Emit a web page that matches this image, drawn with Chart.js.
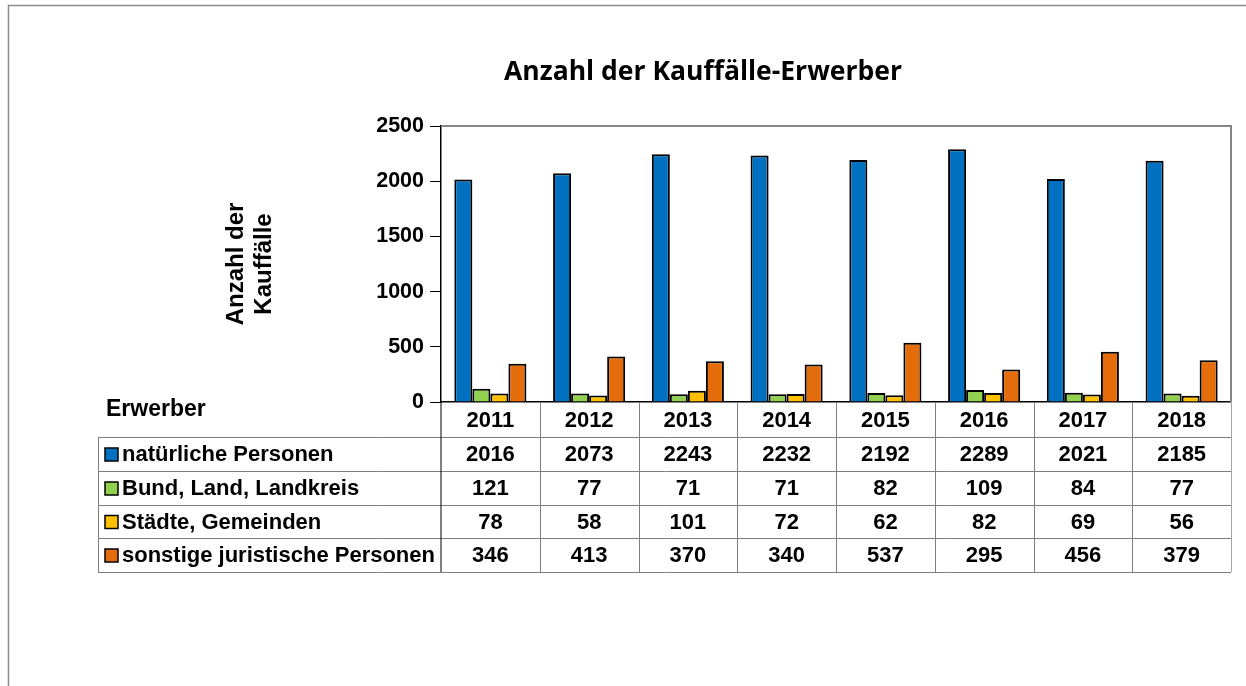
<!DOCTYPE html>
<html>
<head>
<meta charset="utf-8">
<script src="https://cdn.jsdelivr.net/npm/chart.js@4"></script>
<style>
  html, body { margin: 0; padding: 0; background: #fff; }
  canvas { display: block; }
</style>
</head>
<body>
<canvas id="grafico" width="1246" height="686"></canvas>
<script>
// Daten aus der Tabelle
const jahre = ["2011", "2012", "2013", "2014", "2015", "2016", "2017", "2018"];
const natuerlichePersonen = [2016, 2073, 2243, 2232, 2192, 2289, 2021, 2185];
const bundLandLandkreis = [121, 77, 71, 71, 82, 109, 84, 77];
const staedteGemeinden = [78, 58, 101, 72, 62, 82, 69, 56];
const sonstigeJuristische = [346, 413, 370, 340, 537, 295, 456, 379];

const serienNamen = ["natürliche Personen", "Bund, Land, Landkreis", "Städte, Gemeinden", "sonstige juristische Personen"];
const farben = ["#0070C0", "#92D050", "#FFC000", "#E46C0A"];

const titel = "Anzahl der Kauffälle-Erwerber";
const tabellenTitel = "Erwerber";

const schrift = "'Liberation Sans', Arial, sans-serif";

// Plugin: Rahmen, Titel und Datentabelle unter dem Diagramm
const tabellePlugin = {
    id: "tabelle",
    afterDraw(chart) {
        const ctx = chart.ctx;
        const area = chart.chartArea;
        const xs = chart.scales.x;
        const n = jahre.length;
        const spalte = (area.right - area.left) / n;

        ctx.save();

        // äußerer Rahmen
        ctx.strokeStyle = "#8c8c8c";
        ctx.lineWidth = 1.5;
        ctx.beginPath();
        ctx.moveTo(8.5, 686);
        ctx.lineTo(8.5, 5.5);
        ctx.lineTo(1246, 5.5);
        ctx.stroke();

        // Rahmen oben / rechts vom Plotbereich
        ctx.strokeStyle = "#868686";
        ctx.lineWidth = 2;
        ctx.beginPath();
        ctx.moveTo(area.left, area.top);
        ctx.lineTo(area.right, area.top);
        ctx.lineTo(area.right, area.bottom);
        ctx.stroke();

        // Titel
        ctx.fillStyle = "#000";
        ctx.font = "bold 26.5px 'Open Sans', sans-serif";
        ctx.textAlign = "center";
        ctx.textBaseline = "middle";
        ctx.fillText(titel, 703, 72);

        // Tabelle
        const zeilen = [area.bottom, 437, 471, 505, 538, 572];
        const links = 98;
        const werte = [natuerlichePersonen, bundLandLandkreis, staedteGemeinden, sonstigeJuristische];

        ctx.strokeStyle = "#7f7f7f";
        ctx.lineWidth = 1;
        // horizontale Linien
        for (let r = 1; r < zeilen.length; r++) {
            ctx.beginPath();
            ctx.moveTo(links, zeilen[r] + 0.5);
            ctx.lineTo(area.right, zeilen[r] + 0.5);
            ctx.stroke();
        }
        // linke Kante der Tabelle
        ctx.beginPath();
        ctx.moveTo(links + 0.5, zeilen[1]);
        ctx.lineTo(links + 0.5, zeilen[5]);
        ctx.stroke();
        // Spaltentrenner
        for (let i = 1; i <= n; i++) {
            const x = Math.round(area.left + i * spalte) + 0.5;
            ctx.strokeStyle = i === n ? "#a6a6a6" : "#7f7f7f";
            ctx.beginPath();
            ctx.moveTo(x, area.bottom);
            ctx.lineTo(x, zeilen[5]);
            ctx.stroke();
        }
        // Verlängerung der y-Achse durch die Tabelle
        ctx.strokeStyle = "#000";
        ctx.beginPath();
        ctx.moveTo(area.left, area.bottom);
        ctx.lineTo(area.left, zeilen[5]);
        ctx.stroke();

        // Jahreszahlen
        ctx.fillStyle = "#000";
        ctx.font = "bold 22px " + schrift;
        ctx.textAlign = "center";
        for (let i = 0; i < n; i++) {
            const x = xs.getPixelForValue(i);
            ctx.fillText(jahre[i], x, (zeilen[0] + zeilen[1]) / 2 + 1);
        }

        // Werte und Legende
        for (let s = 0; s < werte.length; s++) {
            const ym = (zeilen[s + 1] + zeilen[s + 2]) / 2 + 1;
            ctx.textAlign = "center";
            for (let i = 0; i < n; i++) {
                ctx.fillText(String(werte[s][i]), xs.getPixelForValue(i), ym);
            }
            // Legendenfeld
            ctx.fillStyle = farben[s];
            ctx.fillRect(105, ym - 7, 13, 13);
            ctx.strokeStyle = "#000";
            ctx.lineWidth = 1.5;
            ctx.strokeRect(105, ym - 7, 13, 13);
            ctx.fillStyle = "#000";
            ctx.textAlign = "left";
            ctx.fillText(serienNamen[s], 122, ym);
        }

        // "Erwerber"
        ctx.font = "bold 23px " + schrift;
        ctx.textAlign = "left";
        ctx.fillText(tabellenTitel, 106, 410);

        ctx.restore();
    }
};

const datensaetze = [natuerlichePersonen, bundLandLandkreis, staedteGemeinden, sonstigeJuristische].map((d, i) => ({
    label: serienNamen[i],
    data: d,
    backgroundColor: farben[i],
    borderColor: "#000",
    borderWidth: 2,
    categoryPercentage: 0.73,
    barPercentage: 1.0
}));

const ctx = document.getElementById("grafico").getContext("2d");
const grafico = new Chart(ctx, {
    type: "bar",
    data: {
        labels: jahre,
        datasets: datensaetze
    },
    options: {
        responsive: false,
        animation: false,
        devicePixelRatio: 1,
        layout: {
            padding: { left: 0, right: 15, top: 126, bottom: 284 }
        },
        plugins: {
            legend: { display: false },
            title: { display: false },
            tooltip: { enabled: false }
        },
        scales: {
            x: {
                grid: { display: false, drawTicks: false },
                ticks: { display: false },
                border: { display: true, color: "#000", width: 1.5 },
                afterFit(scale) { scale.height = 0; }
            },
            y: {
                min: 0,
                max: 2500,
                ticks: {
                    stepSize: 500,
                    color: "#000",
                    padding: 6,
                    font: { family: schrift, size: 21.5, weight: "bold" },
                    callback: (wert) => String(wert)
                },
                grid: {
                    drawOnChartArea: false,
                    drawTicks: true,
                    tickLength: 11,
                    color: "#000"
                },
                border: { display: true, color: "#000", width: 1.5 },
                title: {
                    display: true,
                    text: ["Anzahl der", "Kauffälle"],
                    color: "#000",
                    font: { family: schrift, size: 24, weight: "bold", lineHeight: 1.15 },
                    padding: { top: 223, bottom: 0 }
                },
                afterFit(scale) { scale.width = 441; }
            }
        }
    },
    plugins: [tabellePlugin]
});
</script>
</body>
</html>
